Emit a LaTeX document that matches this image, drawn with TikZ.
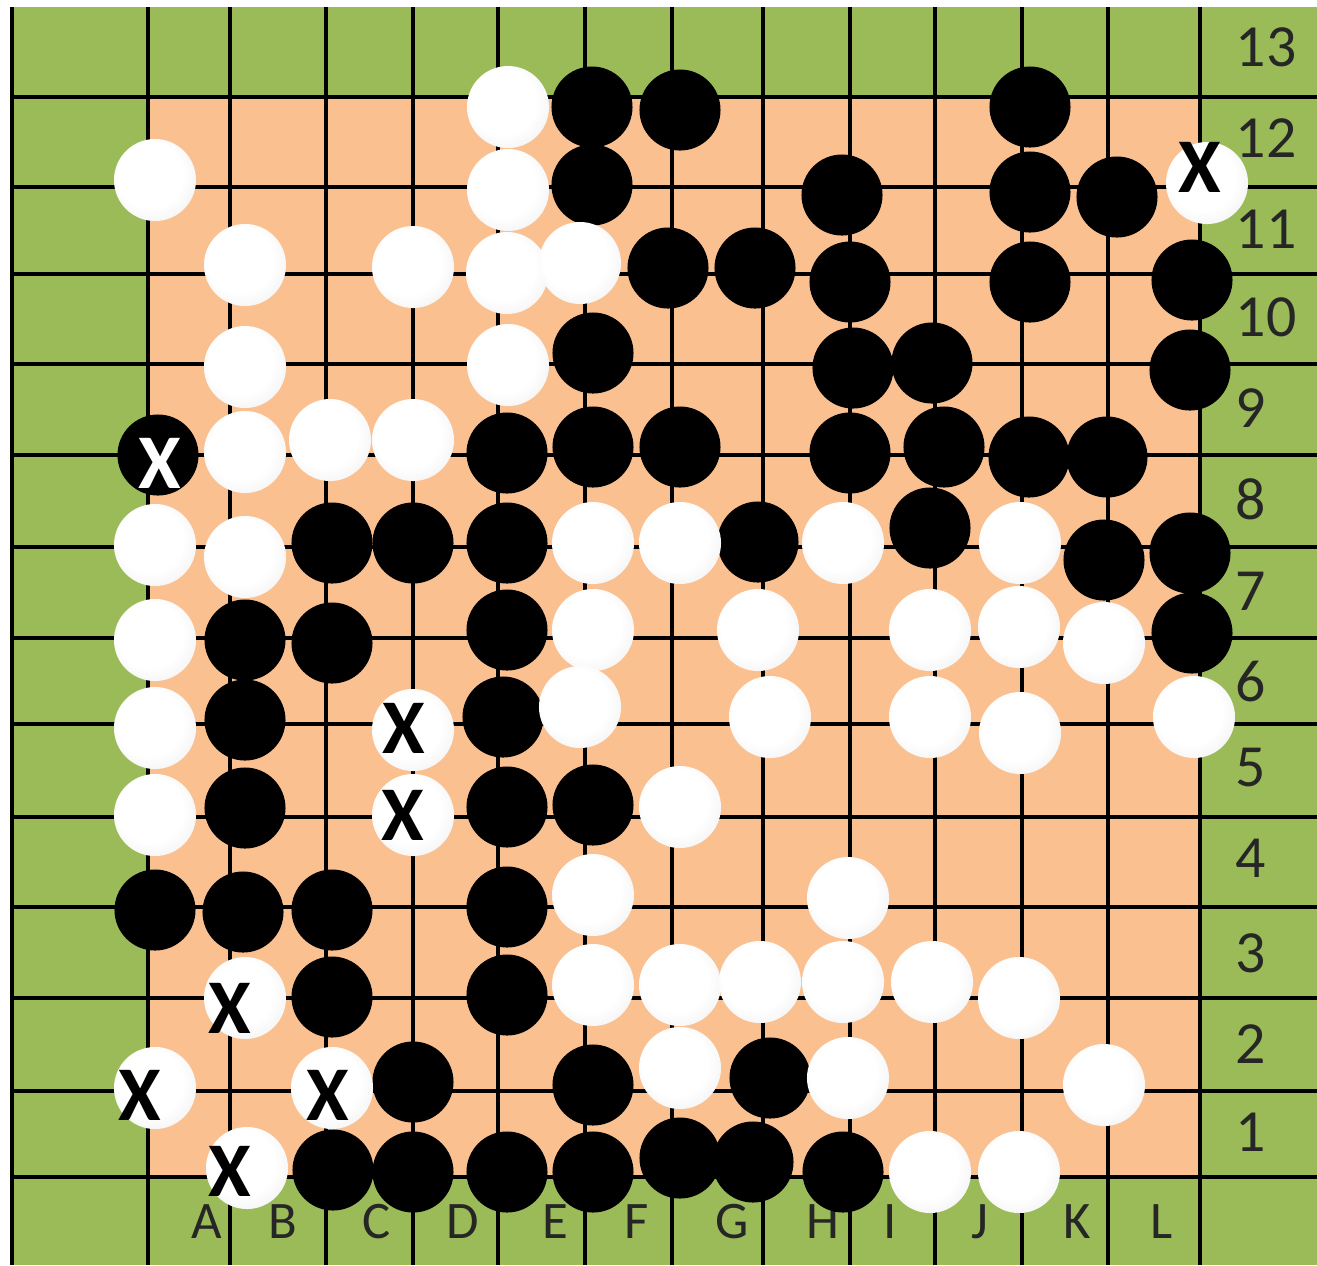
\documentclass[tikz,border=0pt]{standalone}
\usepackage{fontspec}
\setmainfont{Carlito}
\usepackage{xcolor}
\usepackage{tikz}
\definecolor{boardgreen}{RGB}{155,187,89}
\definecolor{boardpeach}{RGB}{250,192,144}
\pgfdeclareradialshading{stoneshade}{\pgfpoint{-5bp}{5bp}}{color(0bp)=(white); color(20bp)=(white); color(38bp)=(black!8); color(50bp)=(black!24)}
\tikzset{
  blackstone/.style={circle, fill=black, minimum size=0.81cm, inner sep=0pt},
  whitestone/.style={circle, shading=stoneshade, minimum size=0.82cm, inner sep=0pt},
  gridline/.style={line width=0.034cm, color=black},
  collabel/.style={inner sep=0pt, font=\fontsize{15}{15}\selectfont, text=black!85},
  rowlabel/.style={anchor=west, inner sep=0pt, font=\fontsize{17}{17}\selectfont, text=black!85},
  blackmark/.style={inner sep=0pt, font=\bfseries\fontsize{22}{22}\selectfont, text=black},
  whitemark/.style={inner sep=0pt, font=\bfseries\fontsize{22}{22}\selectfont, text=white}
}

\begin{document}
\begin{tikzpicture}[x=0.01cm, y=-0.01cm]
  \useasboundingbox (0,0) rectangle (1317,1265);
  % Sheet and board area
  \fill[white] (0,0) rectangle (1317,1265);
  \fill[boardgreen] (10,7) rectangle (1317,1265);
  \fill[boardpeach] (148,97) rectangle (1200,1177);

  % Grid
  \foreach \gx in {12,148,230,326,413,498,585,672,763,850,935,1022,1108,1200}
    \draw[gridline] (\gx,7) -- (\gx,1265);
  \foreach \gy in {97,187,274,364,455,547,638,724,817,907,998,1091,1177}
    \draw[gridline] (12,\gy) -- (1317,\gy);

  % Column and row labels
  \foreach \l/\lx in {A/207,B/283,C/377,D/463,E/555,F/637,G/732,H/823,I/890,J/980,K/1077,L/1162}
    \node[collabel] (col\l) at (\lx,1222) {\l};
  \foreach \n/\ny in {13/47,12/138,11/229,10/317,9/408,8/499,7/591,6/682,5/768,4/858,3/953,2/1044,1/1132}
    \node[rowlabel] (row\n) at (1235,\ny) {\n};

  % Black stones
  \node[blackstone] (b-f1) at (592,107) {};
  \node[blackstone] (b-g1) at (680,110) {};
  \node[blackstone] (b-k1) at (1030,107) {};
  \node[blackstone] (b-f2) at (592,185) {};
  \node[blackstone] (b-i2) at (842,195) {};
  \node[blackstone] (b-k2) at (1030,192) {};
  \node[blackstone] (b-l2) at (1117,197) {};
  \node[blackstone] (b-g3) at (668,268) {};
  \node[blackstone] (b-h3) at (755,268) {};
  \node[blackstone] (b-i3) at (850,282) {};
  \node[blackstone] (b-k3) at (1030,282) {};
  \node[blackstone] (b-m3) at (1192,280) {};
  \node[blackstone] (b-f4) at (593,353) {};
  \node[blackstone] (b-i4) at (853,368) {};
  \node[blackstone] (b-j4) at (932,363) {};
  \node[blackstone] (b-m4) at (1190,370) {};
  \node[blackstone] (b-a5) at (158,455) {};
  \node[blackstone] (b-e5) at (507,453) {};
  \node[blackstone] (b-f5) at (593,447) {};
  \node[blackstone] (b-g5) at (680,447) {};
  \node[blackstone] (b-i5) at (850,453) {};
  \node[blackstone] (b-j5) at (944,447) {};
  \node[blackstone] (b-k5) at (1029,457) {};
  \node[blackstone] (b-l5) at (1107,457) {};
  \node[blackstone] (b-c6) at (332,543) {};
  \node[blackstone] (b-d6) at (413,543) {};
  \node[blackstone] (b-e6) at (507,543) {};
  \node[blackstone] (b-h6) at (758,542) {};
  \node[blackstone] (b-j6) at (930,528) {};
  \node[blackstone] (b-l6) at (1104,560) {};
  \node[blackstone] (b-m6) at (1190,553) {};
  \node[blackstone] (b-b7) at (245,640) {};
  \node[blackstone] (b-c7) at (332,643) {};
  \node[blackstone] (b-e7) at (507,630) {};
  \node[blackstone] (b-m7) at (1192,633) {};
  \node[blackstone] (b-b8) at (245,720) {};
  \node[blackstone] (b-e8) at (503,717) {};
  \node[blackstone] (b-b9) at (245,808) {};
  \node[blackstone] (b-e9) at (507,807) {};
  \node[blackstone] (b-f9) at (593,805) {};
  \node[blackstone] (b-a10) at (155,910) {};
  \node[blackstone] (b-b10) at (243,912) {};
  \node[blackstone] (b-c10) at (332,910) {};
  \node[blackstone] (b-e10) at (507,907) {};
  \node[blackstone] (b-c11) at (332,997) {};
  \node[blackstone] (b-e11) at (507,995) {};
  \node[blackstone] (b-d12) at (413,1082) {};
  \node[blackstone] (b-f12) at (593,1085) {};
  \node[blackstone] (b-h12) at (770,1078) {};
  \node[blackstone] (b-c13) at (333,1170) {};
  \node[blackstone] (b-d13) at (413,1172) {};
  \node[blackstone] (b-e13) at (507,1172) {};
  \node[blackstone] (b-f13) at (593,1172) {};
  \node[blackstone] (b-g13) at (680,1158) {};
  \node[blackstone] (b-h13) at (753,1162) {};
  \node[blackstone] (b-i13) at (843,1172) {};

  % White stones
  \node[whitestone] (w-e1) at (508,107) {};
  \node[whitestone] (w-a2) at (155,180) {};
  \node[whitestone] (w-e2) at (508,190) {};
  \node[whitestone] (w-m2) at (1207,183) {};
  \node[whitestone] (w-b3) at (245,265) {};
  \node[whitestone] (w-d3) at (413,267) {};
  \node[whitestone] (w-e3) at (507,273) {};
  \node[whitestone] (w-f3) at (580,263) {};
  \node[whitestone] (w-b4) at (245,367) {};
  \node[whitestone] (w-e4) at (508,365) {};
  \node[whitestone] (w-b5) at (245,452) {};
  \node[whitestone] (w-c5) at (330,440) {};
  \node[whitestone] (w-d5) at (413,440) {};
  \node[whitestone] (w-a6) at (155,545) {};
  \node[whitestone] (w-b6) at (245,557) {};
  \node[whitestone] (w-f6) at (593,543) {};
  \node[whitestone] (w-g6) at (680,543) {};
  \node[whitestone] (w-i6) at (843,543) {};
  \node[whitestone] (w-k6) at (1020,543) {};
  \node[whitestone] (w-a7) at (155,640) {};
  \node[whitestone] (w-f7) at (593,630) {};
  \node[whitestone] (w-h7) at (758,630) {};
  \node[whitestone] (w-j7) at (930,630) {};
  \node[whitestone] (w-k7) at (1019,627) {};
  \node[whitestone] (w-l7) at (1104,643) {};
  \node[whitestone] (w-a8) at (155,728) {};
  \node[whitestone] (w-d8) at (413,730) {};
  \node[whitestone] (w-f8) at (580,707) {};
  \node[whitestone] (w-h8) at (770,717) {};
  \node[whitestone] (w-j8) at (930,717) {};
  \node[whitestone] (w-k8) at (1020,733) {};
  \node[whitestone] (w-m8) at (1194,717) {};
  \node[whitestone] (w-a9) at (155,815) {};
  \node[whitestone] (w-d9) at (413,815) {};
  \node[whitestone] (w-g9) at (680,807) {};
  \node[whitestone] (w-f10) at (593,895) {};
  \node[whitestone] (w-i10) at (848,898) {};
  \node[whitestone] (w-b11) at (245,998) {};
  \node[whitestone] (w-f11) at (593,985) {};
  \node[whitestone] (w-g11) at (680,985) {};
  \node[whitestone] (w-h11) at (760,982) {};
  \node[whitestone] (w-i11) at (843,982) {};
  \node[whitestone] (w-j11) at (932,982) {};
  \node[whitestone] (w-k11) at (1019,998) {};
  \node[whitestone] (w-a12) at (155,1088) {};
  \node[whitestone] (w-c12) at (332,1088) {};
  \node[whitestone] (w-g12) at (680,1068) {};
  \node[whitestone] (w-i12) at (848,1078) {};
  \node[whitestone] (w-l12) at (1104,1085) {};
  \node[whitestone] (w-b13) at (247,1168) {};
  \node[whitestone] (w-j13) at (930,1172) {};
  \node[whitestone] (w-k13) at (1019,1172) {};

  % Marks
  \node[blackmark] (x-m2) at (1200,167) {X};
  \node[whitemark] (x-a5) at (160,463) {X};
  \node[blackmark] (x-d8) at (404,728) {X};
  \node[blackmark] (x-d9) at (403,815) {X};
  \node[blackmark] (x-b11) at (230,1008) {X};
  \node[blackmark] (x-a12) at (140,1095) {X};
  \node[blackmark] (x-c12) at (328,1095) {X};
  \node[blackmark] (x-b13) at (230,1171) {X};
\end{tikzpicture}
\end{document}
